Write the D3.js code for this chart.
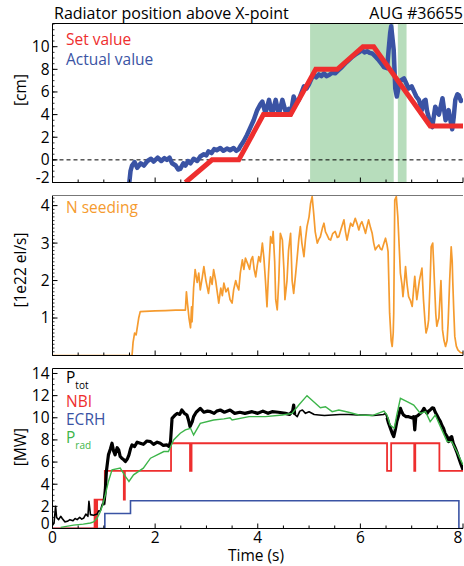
<!DOCTYPE html>
<html><head><meta charset="utf-8">
<script src="https://cdn.jsdelivr.net/npm/d3@7"></script>
<style>
body{margin:0;background:#fff}
svg{display:block}
text{font-family:"Open Sans",sans-serif}
</style>
</head><body>
<svg id="c" width="464" height="566"></svg>
<script>
// ---------- DATA ----------
const xTicks = [0, 2, 4, 6, 8];
const p1Ticks = [-2, 0, 2, 4, 6, 8, 10];
const p2Ticks = [1, 2, 3, 4];
const p3Ticks = [0, 2, 4, 6, 8, 10, 12, 14];

// Panel 1: radiator position [cm]
const setValue = [[2.59,-2],[3.11,0],[3.63,0],[4.11,4],[4.64,4],[5.13,8],[5.55,8],[6.05,10],[6.26,10],[7.36,3],[8.0,3]];
const actualValue = [[1.49,-2.3],[1.52,-1.0],[1.55,-0.5],[1.6,-0.2],[1.65,-0.7],[1.72,-0.3],[1.78,-0.5],[1.85,-0.1],[1.92,0.1],[1.97,-0.15],[2.05,0.2],[2.12,-0.1],[2.18,0.15],[2.23,0.0],[2.28,0.2],[2.33,-0.3],[2.4,-0.5],[2.45,-0.85],[2.49,-0.8],[2.55,-0.3],[2.59,-0.5],[2.64,-0.1],[2.69,-0.3],[2.75,0.1],[2.82,-0.1],[2.88,0.3],[2.95,0.5],[3.0,0.4],[3.04,0.75],[3.1,0.6],[3.15,0.95],[3.2,0.85],[3.27,1.05],[3.33,0.8],[3.4,1.0],[3.46,0.85],[3.53,1.05],[3.58,0.8],[3.63,0.95],[3.66,1.2],[3.72,1.6],[3.79,2.2],[3.85,2.8],[3.92,3.5],[3.99,4.4],[4.05,4.9],[4.09,5.15],[4.15,4.1],[4.22,5.3],[4.28,4.0],[4.35,5.3],[4.41,4.0],[4.48,5.3],[4.54,4.3],[4.6,4.5],[4.64,4.0],[4.7,5.6],[4.75,5.0],[4.8,5.3],[4.85,5.9],[4.9,6.5],[4.95,6.3],[5.0,6.7],[5.05,7.2],[5.09,7.5],[5.14,7.3],[5.19,7.55],[5.24,7.4],[5.29,7.65],[5.34,7.4],[5.39,7.5],[5.45,7.7],[5.51,7.65],[5.57,7.9],[5.64,8.2],[5.7,8.5],[5.77,8.8],[5.84,9.1],[5.9,9.3],[5.97,9.5],[6.03,9.7],[6.08,9.5],[6.13,9.6],[6.18,9.45],[6.23,9.4],[6.3,9.1],[6.36,8.8],[6.41,8.5],[6.46,8.2],[6.52,8.1],[6.55,9.7],[6.58,11.2],[6.6,11.8],[6.62,11.0],[6.65,9.7],[6.68,6.3],[6.71,5.6],[6.74,6.3],[6.78,7.0],[6.85,7.2],[6.9,6.7],[6.94,6.3],[7.0,6.5],[7.04,6.1],[7.09,5.6],[7.14,5.3],[7.2,4.4],[7.24,5.2],[7.27,5.3],[7.3,4.3],[7.33,3.8],[7.37,3.1],[7.4,2.9],[7.43,3.8],[7.46,4.7],[7.5,4.3],[7.53,4.0],[7.57,4.8],[7.6,5.45],[7.63,4.5],[7.66,3.5],[7.69,3.9],[7.72,4.4],[7.75,3.6],[7.79,2.7],[7.82,3.8],[7.85,5.3],[7.89,5.8],[7.92,5.7],[7.96,5.2],[8.0,5.4]];
const shadedIntervals = [[5.02, 6.65], [6.73, 6.9]];

// Panel 2: N seeding [1e22 el/s]
const nSeeding = [[0,0],[1.55,0],[1.57,0.35],[1.6,0.6],[1.63,0.55],[1.68,1.0],[1.71,1.17],[1.8,1.18],[2.0,1.19],[2.2,1.2],[2.4,1.21],[2.59,1.21],[2.61,1.7],[2.63,1.4],[2.66,1.0],[2.69,0.74],[2.71,1.3],[2.72,0.9],[2.75,1.8],[2.78,2.29],[2.82,1.95],[2.85,2.2],[2.88,1.75],[2.92,2.1],[2.95,2.37],[2.99,2.0],[3.04,1.66],[3.08,2.1],[3.11,1.9],[3.14,2.29],[3.18,2.0],[3.21,1.7],[3.24,1.4],[3.28,1.8],[3.31,1.6],[3.34,1.93],[3.38,1.7],[3.42,1.8],[3.46,1.49],[3.5,1.4],[3.53,1.75],[3.57,2.0],[3.6,1.85],[3.63,1.75],[3.66,2.2],[3.7,2.55],[3.73,2.3],[3.76,2.6],[3.8,2.46],[3.84,2.3],[3.87,2.55],[3.9,2.64],[3.93,2.3],[3.96,2.1],[3.99,2.4],[4.02,2.64],[4.05,2.5],[4.09,3.0],[4.12,2.6],[4.15,2.0],[4.18,1.3],[4.21,2.2],[4.25,3.17],[4.28,3.0],[4.3,3.31],[4.33,2.5],[4.35,1.49],[4.38,1.22],[4.41,2.0],[4.44,3.26],[4.48,3.08],[4.51,2.3],[4.53,1.49],[4.57,2.0],[4.6,2.8],[4.64,3.26],[4.67,2.0],[4.7,1.66],[4.74,2.2],[4.77,2.64],[4.8,3.1],[4.83,3.44],[4.86,3.0],[4.9,2.64],[4.93,3.1],[4.96,3.44],[5.0,3.7],[5.03,4.06],[5.06,4.24],[5.09,3.8],[5.12,3.3],[5.16,3.0],[5.19,3.1],[5.22,3.17],[5.26,3.4],[5.29,3.53],[5.32,3.3],[5.35,3.22],[5.39,3.1],[5.42,3.08],[5.46,3.25],[5.51,3.31],[5.55,3.15],[5.58,3.17],[5.63,3.4],[5.68,3.62],[5.71,3.3],[5.74,3.08],[5.78,3.35],[5.81,3.53],[5.85,3.45],[5.9,3.66],[5.94,3.5],[5.97,3.35],[6.0,3.5],[6.03,3.57],[6.07,3.4],[6.1,3.26],[6.13,3.45],[6.16,3.62],[6.2,3.4],[6.23,3.26],[6.26,3.0],[6.29,2.82],[6.33,2.9],[6.36,2.95],[6.39,2.85],[6.42,2.82],[6.46,3.0],[6.49,3.13],[6.52,2.95],[6.54,2.77],[6.57,1.13],[6.6,0.4],[6.62,0.24],[6.64,0.6],[6.65,1.13],[6.67,4.15],[6.7,4.24],[6.73,3.7],[6.76,2.8],[6.78,2.2],[6.81,1.9],[6.83,1.57],[6.86,2.0],[6.88,2.37],[6.91,1.9],[6.94,1.57],[6.98,1.45],[7.01,1.31],[7.04,1.8],[7.06,2.11],[7.08,1.8],[7.1,1.49],[7.13,1.8],[7.15,2.0],[7.18,2.2],[7.2,2.33],[7.23,1.49],[7.26,0.9],[7.28,0.6],[7.31,0.75],[7.33,0.95],[7.36,2.0],[7.38,2.9],[7.41,3.0],[7.43,2.4],[7.45,1.75],[7.47,1.1],[7.49,0.78],[7.51,0.9],[7.53,1.0],[7.55,1.5],[7.57,2.0],[7.59,1.2],[7.6,0.69],[7.63,0.4],[7.66,0.24],[7.69,0.4],[7.71,0.86],[7.74,2.0],[7.77,2.9],[7.79,2.5],[7.8,2.0],[7.82,1.2],[7.84,0.51],[7.87,0.25],[7.9,0.15],[7.95,0.08],[8.0,0.07]];

// Panel 3: powers [MW]
const pTot = [[0.0,0.3],[0.03,0.5],[0.06,2.0],[0.08,1.0],[0.12,0.8],[0.16,1.1],[0.19,0.9],[0.24,0.6],[0.29,0.65],[0.34,0.8],[0.4,0.7],[0.44,0.9],[0.48,0.8],[0.53,1.0],[0.57,0.85],[0.61,0.95],[0.65,1.3],[0.69,1.1],[0.71,2.45],[0.74,1.25],[0.8,1.2],[0.87,1.3],[0.9,1.6],[0.93,1.55],[0.97,2.2],[1.0,2.15],[1.03,3.5],[1.05,5.15],[1.09,6.65],[1.13,7.2],[1.16,7.7],[1.19,7.0],[1.22,6.65],[1.26,7.3],[1.29,7.1],[1.32,6.5],[1.35,6.35],[1.39,6.2],[1.42,6.05],[1.46,6.3],[1.49,6.65],[1.52,7.2],[1.55,7.55],[1.6,7.4],[1.65,7.8],[1.71,7.7],[1.77,7.6],[1.84,7.9],[1.91,7.85],[1.97,7.6],[2.04,7.8],[2.1,7.7],[2.16,7.5],[2.23,7.55],[2.27,7.4],[2.3,7.85],[2.33,9.95],[2.38,10.2],[2.43,10.4],[2.48,10.3],[2.52,10.7],[2.57,10.4],[2.62,10.25],[2.65,9.8],[2.68,9.2],[2.72,9.6],[2.75,10.1],[2.8,10.5],[2.88,10.85],[2.95,10.5],[3.02,10.6],[3.08,10.55],[3.15,10.4],[3.2,10.6],[3.27,10.7],[3.35,10.5],[3.46,10.7],[3.55,10.4],[3.65,10.5],[3.75,10.4],[3.89,10.55],[4.0,10.4],[4.1,10.6],[4.2,10.4],[4.28,10.55],[4.4,10.5],[4.54,10.4],[4.62,10.3],[4.68,10.6],[4.7,11.15],[4.72,10.3],[4.77,10.1],[4.82,10.6],[4.87,10.7],[4.93,10.4],[5.0,10.55],[5.1,10.3],[5.19,10.25],[5.3,10.2],[5.45,10.25],[5.6,10.3],[5.77,10.3],[5.95,10.25],[6.1,10.25],[6.25,10.2],[6.36,10.25],[6.45,10.3],[6.49,10.4],[6.52,10.0],[6.55,9.5],[6.59,9.0],[6.62,8.6],[6.65,8.3],[6.68,8.9],[6.71,9.65],[6.75,10.3],[6.78,10.85],[6.81,10.5],[6.84,10.25],[6.89,10.1],[6.94,10.1],[7.0,10.0],[7.04,10.1],[7.06,8.9],[7.08,10.1],[7.12,10.2],[7.17,10.4],[7.21,10.6],[7.24,10.85],[7.27,10.6],[7.3,10.4],[7.33,10.6],[7.36,10.7],[7.4,10.9],[7.43,10.85],[7.46,10.5],[7.49,10.25],[7.53,9.9],[7.56,9.65],[7.59,9.3],[7.62,9.05],[7.65,8.6],[7.69,8.3],[7.72,7.85],[7.75,8.2],[7.78,8.3],[7.81,7.7],[7.85,7.25],[7.88,6.9],[7.92,6.35],[7.96,5.8],[8.0,5.3]];
const pRad = [[0.16,0.1],[0.41,0.3],[0.6,0.4],[0.74,0.5],[0.8,0.6],[0.87,0.95],[0.92,1.4],[0.97,2.0],[1.03,3.05],[1.09,4.25],[1.16,5.3],[1.32,5.45],[1.42,4.7],[1.49,4.25],[1.58,4.85],[1.77,5.45],[1.91,6.35],[2.04,6.65],[2.17,6.95],[2.26,6.95],[2.36,8.0],[2.49,8.6],[2.59,8.9],[2.69,9.05],[2.75,8.45],[2.88,9.5],[3.14,9.8],[3.34,9.9],[3.46,10.0],[3.5,9.8],[3.83,10.1],[4.15,10.1],[4.48,10.25],[4.67,10.4],[4.8,11.15],[4.96,12.0],[5.09,11.45],[5.22,10.9],[5.32,11.0],[5.45,10.55],[5.58,10.7],[5.77,10.5],[5.97,10.25],[6.23,10.2],[6.46,10.6],[6.52,10.25],[6.58,9.35],[6.66,9.05],[6.71,10.25],[6.78,11.75],[6.91,11.45],[7.04,11.15],[7.17,10.4],[7.27,10.55],[7.36,9.65],[7.46,10.25],[7.56,9.2],[7.69,7.85],[7.78,7.85],[7.88,6.95],[8.0,5.75]];
const nbi = [[0,0],[0.82,2.6],[0.845,0],[0.87,2.6],[1.02,5.2],[1.39,2.6],[1.41,5.2],[2.31,7.7],[2.68,5.2],[2.71,7.7],[6.52,5.2],[6.6,7.7],[7.05,5.2],[7.07,7.7],[7.54,5.2],[8.0,5.2]];
const ecrh = [[0,0],[1.02,1.35],[1.52,2.5],[7.92,0],[8.0,0]];
// time windows where the P_tot trace is a wide noisy band
const pTotNoisyWindows = [[1.0, 4.75], [6.5, 8.0]];

// ---------- LAYOUT ----------
const svg = d3.select("#c");
const X0 = 52.5, X1 = 463;
const x = d3.scaleLinear().domain([0, 8]).range([X0, X1]);
const panels = [
  {id:"p1", top:23.5, bottom:182.5, domain:[-2, 12.05], ticks:p1Ticks, minor:0.5, label:"[cm]", labelY:90},
  {id:"p2", top:195.5, bottom:355.5, domain:[0, 4.27], ticks:p2Ticks, minor:0.1, label:"[1e22 el/s]", labelY:270},
  {id:"p3", top:368.5, bottom:528.5, domain:[0, 14.45], ticks:p3Ticks, minor:0.5, label:"[MW]", labelY:447}
];
panels.forEach(p => {
  p.y = d3.scaleLinear().domain(p.domain).range([p.bottom, p.top]);
  svg.append("clipPath").attr("id", "clip-" + p.id)
    .append("rect").attr("x", X0).attr("y", p.top).attr("width", X1 - X0).attr("height", p.bottom - p.top);
  p.g = svg.append("g");
  p.plot = p.g.append("g").attr("clip-path", `url(#clip-${p.id})`);
});
const [P1, P2, P3] = panels;

const lineGen = (p, curve) => d3.line().x(d => x(d[0])).y(d => p.y(d[1])).curve(curve || d3.curveLinear);

// Panel 1 content
P1.plot.selectAll("rect.shade").data(shadedIntervals).join("rect")
  .attr("x", d => x(d[0])).attr("width", d => x(d[1]) - x(d[0]))
  .attr("y", P1.top).attr("height", P1.bottom - P1.top).attr("fill", "#b7ddbc");
P1.plot.append("line").attr("x1", X0).attr("x2", X1).attr("y1", P1.y(0)).attr("y2", P1.y(0))
  .attr("stroke", "#000").attr("stroke-width", 1).attr("stroke-dasharray", "4,3");
P1.plot.append("path").datum(actualValue).attr("d", lineGen(P1)).attr("fill", "none")
  .attr("stroke", "#3a53a4").attr("stroke-width", 4.5).attr("stroke-linejoin", "round");
P1.plot.append("path").datum(setValue).attr("d", lineGen(P1)).attr("fill", "none")
  .attr("stroke", "#ee2e2e").attr("stroke-width", 5);

// Panel 2 content
P2.plot.append("path").datum(nSeeding).attr("d", lineGen(P2)).attr("fill", "none")
  .attr("stroke", "#f59b2f").attr("stroke-width", 1.7).attr("stroke-linejoin", "round");

// Panel 3 content
P3.plot.append("path").datum(ecrh).attr("d", lineGen(P3, d3.curveStepAfter)).attr("fill", "none")
  .attr("stroke", "#3a53a4").attr("stroke-width", 1.6);
P3.plot.append("path").datum(nbi).attr("d", lineGen(P3, d3.curveStepAfter)).attr("fill", "none")
  .attr("stroke", "#ee2e2e").attr("stroke-width", 1.8);
P3.plot.append("path").datum(pTot).attr("d", lineGen(P3)).attr("fill", "none")
  .attr("stroke", "#000").attr("stroke-width", 1.6).attr("stroke-linejoin", "round");
pTotNoisyWindows.forEach(w => {
  P3.plot.append("path").datum(pTot.filter(d => d[0] >= w[0] && d[0] <= w[1]))
    .attr("d", lineGen(P3)).attr("fill", "none")
    .attr("stroke", "#000").attr("stroke-width", 3.2).attr("stroke-linejoin", "round");
});
P3.plot.append("path").datum(pRad).attr("d", lineGen(P3)).attr("fill", "none")
  .attr("stroke", "#3db54a").attr("stroke-width", 1.4);

// Axes
const FS = 15.5;
panels.forEach((p, i) => {
  const g = p.g;
  g.append("line").attr("x1", X0).attr("x2", X0).attr("y1", p.top).attr("y2", p.bottom).attr("stroke", "#000");
  g.append("line").attr("x1", X0).attr("x2", X1).attr("y1", p.bottom).attr("y2", p.bottom).attr("stroke", "#000");
  g.append("line").attr("x1", X0).attr("x2", X1).attr("y1", p.top).attr("y2", p.top).attr("stroke", i === 1 ? "#777" : "#000");
  const xMinor = d3.range(0, 8.001, 0.5);
  g.selectAll("line.xt").data(xMinor).join("line")
    .attr("x1", d => x(d)).attr("x2", d => x(d))
    .attr("y1", p.bottom).attr("y2", d => p.bottom - (d % 2 === 0 ? 5 : 3))
    .attr("stroke", "#000");
  const [d0, d1] = p.domain;
  const yMinor = d3.range(Math.ceil(d0 / p.minor) * p.minor, d1 + 1e-6, p.minor);
  g.selectAll("line.ym").data(yMinor).join("line")
    .attr("x1", X0).attr("x2", X0 + 2)
    .attr("y1", d => p.y(d)).attr("y2", d => p.y(d)).attr("stroke", "#000").attr("stroke-width", 0.8);
  g.selectAll("line.yM").data(p.ticks).join("line")
    .attr("x1", X0).attr("x2", X0 + 5)
    .attr("y1", d => p.y(d)).attr("y2", d => p.y(d)).attr("stroke", "#000");
  g.selectAll("text.yl").data(p.ticks).join("text")
    .attr("x", X0 - 3).attr("y", d => p.y(d) + (d === d0 ? -5 : 0))
    .attr("dy", "0.35em").attr("text-anchor", "end").attr("font-size", FS).text(d => d);
  g.append("text").attr("transform", `translate(26,${p.labelY}) rotate(-90)`)
    .attr("text-anchor", "middle").attr("font-size", FS).text(p.label);
});

// x tick labels (last one pulled inside the canvas)
svg.selectAll("text.xl").data(xTicks).join("text")
  .attr("x", d => x(d) - (d === 8 ? 5 : 0)).attr("y", 543).attr("text-anchor", "middle").attr("font-size", FS).text(d => d);
svg.append("text").attr("x", 256).attr("y", 561).attr("text-anchor", "middle").attr("font-size", FS).text("Time (s)");

// titles
svg.append("text").attr("x", 54).attr("y", 19).attr("font-size", 16).text("Radiator position above X-point");
svg.append("text").attr("x", 463).attr("y", 19).attr("text-anchor", "end").attr("font-size", 16).text("AUG #36655");

// legends
svg.append("text").attr("x", 66).attr("y", 45).attr("font-size", FS).attr("fill", "#ee2e2e").text("Set value");
svg.append("text").attr("x", 66).attr("y", 65).attr("font-size", FS).attr("fill", "#3a53a4").text("Actual value");
svg.append("text").attr("x", 66).attr("y", 213).attr("font-size", FS).attr("fill", "#f59b2f").text("N seeding");
const l3 = [
  {t:"P", sub:"tot", c:"#000", y:383},
  {t:"NBI", sub:"", c:"#ee2e2e", y:407},
  {t:"ECRH", sub:"", c:"#3a53a4", y:425},
  {t:"P", sub:"rad", c:"#3db54a", y:443}
];
l3.forEach(d => {
  const t = svg.append("text").attr("x", 66).attr("y", d.y).attr("font-size", FS).attr("fill", d.c);
  t.append("tspan").text(d.t);
  if (d.sub) t.append("tspan").attr("dy", 6).attr("font-size", 10).text(d.sub);
});
</script>
</body></html>
